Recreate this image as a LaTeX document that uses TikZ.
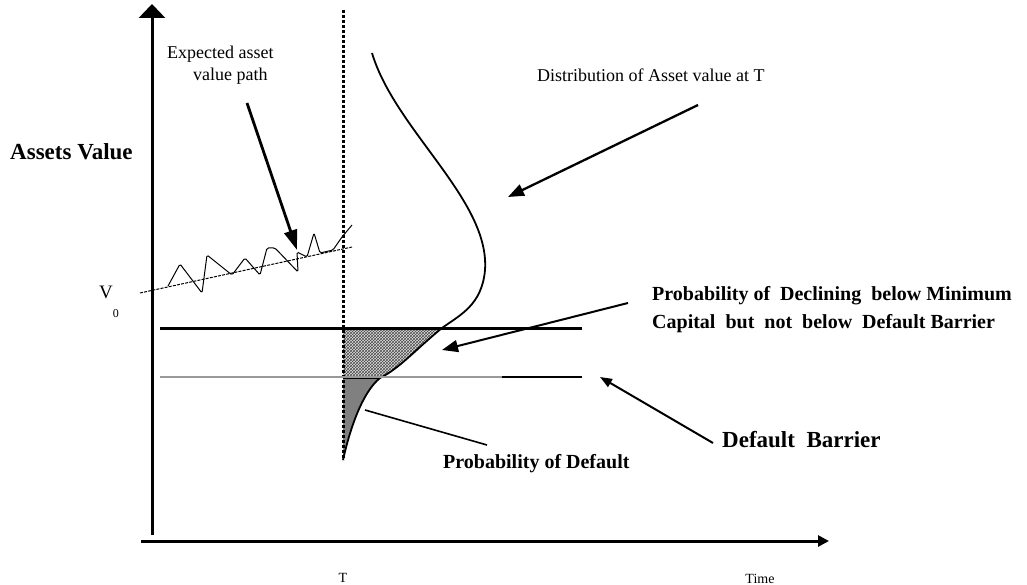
\documentclass[tikz,border=0pt]{standalone}
\usepackage{fontspec}
\setmainfont{Liberation Serif}
\usetikzlibrary{arrows.meta,patterns}
\begin{document}
\begin{tikzpicture}[x=1pt,y=-1pt,
  lbl/.style={inner sep=0pt, anchor=base west},
  boldlbl/.style={lbl, font=\bfseries\fontsize{20}{28}\selectfont},
  axisline/.style={line width=3pt},
  pointer/.style={line width=2.3pt,-{Triangle[length=16pt,width=12pt]}},
]
\useasboundingbox (0,0) rectangle (1027,585);
\fill[white] (0,0) rectangle (1027,585);

% shaded areas under the distribution
\begin{scope}
  \clip (343,40) -- (372,53) .. controls (395,130) and (490,200) .. (485,270)
        .. controls (482,305) and (460,315) .. (442,328)
        .. controls (415,350) and (400,368) .. (380,378)
        .. controls (365,390) and (352,420) .. (343,460) -- cycle;
  \fill[black!12] (343,328) rectangle (500,377);
  \fill[pattern=crosshatch, pattern color=black!70] (343,328) rectangle (500,377);
  \fill[black!50] (343,377) rectangle (500,470);
  \draw[line width=2pt] (343,378) -- (500,378);
\end{scope}

% distribution curve
\draw[line width=1.8pt] (372,53) .. controls (395,130) and (490,200) .. (485,270)
        .. controls (482,305) and (460,315) .. (442,328)
        .. controls (415,350) and (400,368) .. (380,378)
        .. controls (365,390) and (352,420) .. (343,460);

% axes
\coordinate (yb) at (152,535);
\coordinate (yt) at (152,4);
\coordinate (xl) at (141,541);
\coordinate (xr) at (829,541);
\draw[axisline,-{Triangle[length=14pt,width=26pt]}] (yb) -- (yt);
\draw[axisline,-{Triangle[length=11pt,width=11pt]}] (xl) -- (xr);

% horizon T
\draw[line width=3pt, dash pattern=on 3pt off 2pt] (343,10) -- (343,460);

% minimum capital and default barrier
\draw[line width=3pt] (160,328) -- (582,328);
\draw[line width=1.5pt, black!40] (160,377) -- (502,377);
\draw[line width=1.5pt] (502,377) -- (582,377);

% expected path and simulated path
\draw[line width=1pt, dash pattern=on 3pt off 1.2pt] (140,293) -- (352,247);
\draw[line width=1pt, rounded corners=1.5pt]
  (168,286) -- (180,264) -- (202,293) -- (207,255) -- (232,275) -- (245,258)
  -- (260,275) -- (267,248) -- (275,248) -- (298,272) -- (297,252) -- (307,257)
  -- (314,233) -- (320,253) -- (333,250) -- (342,237) -- (352,225);

% labels
\node[lbl, font=\bfseries\fontsize{23}{23}\selectfont] (av) at (10,160) {Assets Value};
\node[lbl, font=\fontsize{19}{19}\selectfont] (v0) at (99,298) {V\raisebox{-19pt}{\fontsize{12}{12}\selectfont 0}};
\node[inner sep=0pt, anchor=north west, align=left, font=\fontsize{18}{22}\selectfont] (exp) at (167,46)
  {Expected asset\\\hspace*{26pt}value path};
\node[lbl, font=\fontsize{18}{18}\selectfont] (dist) at (537,82) {Distribution of Asset value at T};
\node[boldlbl] (decl1) at (652,300) {Probability of~ Declining~ below Minimum};
\node[boldlbl] (decl2) at (652,328) {Capital~ but~ not~ below~ Default Barrier};
\node[lbl, font=\bfseries\fontsize{23}{23}\selectfont] (db) at (722,447) {Default~ Barrier};
\node[lbl, font=\bfseries\fontsize{20}{20}\selectfont] (pd) at (443,468) {Probability of Default};
\node[inner sep=0pt, anchor=base, font=\fontsize{14}{14}\selectfont] (tT) at (343,582) {T};
\node[inner sep=0pt, anchor=base, font=\fontsize{14}{14}\selectfont] (tm) at (760,583) {Time};

% pointers
\coordinate (expS) at (247,103);
\coordinate (expE) at (297,250);
\draw[line width=2.8pt,-{Triangle[length=20pt,width=13pt]}] (expS) -- (expE);
\coordinate (distS) at (698,105);
\coordinate (distE) at (508,197);
\draw[pointer] (distS) -- (distE);
\coordinate (declS) at (628,303);
\coordinate (declE) at (442,350);
\draw[pointer, line width=2pt] (declS) -- (declE);
\coordinate (dbS) at (713,443);
\coordinate (dbE) at (600,377);
\draw[line width=2pt,-{Triangle[length=12pt,width=9pt]}] (dbS) -- (dbE);
\coordinate (pdS) at (487,445);
\coordinate (pdE) at (365,410);
\draw[line width=1.6pt] (pdS) -- (pdE);
\end{tikzpicture}
\end{document}
